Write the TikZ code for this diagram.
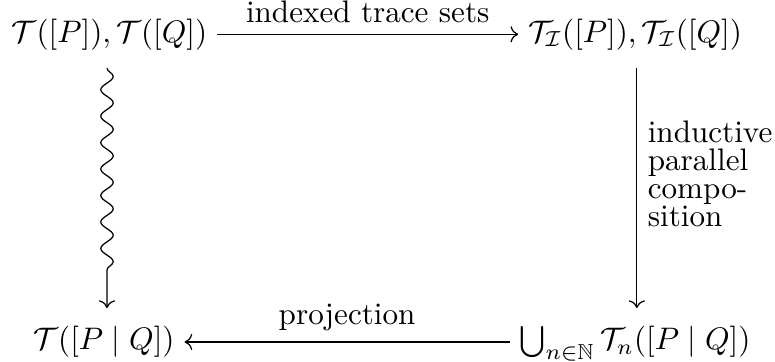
\documentclass[tikz,border=0pt]{standalone}
\usepackage{amsmath,amssymb}
\usetikzlibrary{arrows.meta,positioning,calc,decorations.pathmorphing}

\begin{document}
\begin{tikzpicture}[
  obj/.style={inner xsep=3pt,inner ysep=5.7pt,text height=7.5pt,text depth=2.5pt},
  squig/.style={decorate,decoration={snake,amplitude=2pt,segment length=8.5pt,post length=3mm}}]
\useasboundingbox (0,0) rectangle (8.75,4.087);
\node[obj] (tl) at (1.236,3.70) {$\mathcal{T}([P]),\mathcal{T}([Q])$};
\node[obj] (tr) at (7.17,3.70) {$\mathcal{T}_{\mathcal{I}}([P]),\mathcal{T}_{\mathcal{I}}([Q])$};
\node[obj] (bl) at (1.174,0.226) {$\mathcal{T}([P \mid Q])$};
\node[obj] (br) at (7.17,0.226) {$\bigcup_{n\in\mathbb{N}}\mathcal{T}_n([P \mid Q])$};
\coordinate (lc) at (1.208,0);
\coordinate (rc) at (7.19,0);
% arrows
\draw[->] (tl) -- node[above] {indexed trace sets} (tr);
\draw[->] (tr.south -| rc) -- node[right,yshift=4.5pt,align=left,font=\fontsize{10}{9}\selectfont] {inductive\\parallel\\compo-\\sition} (br.north -| rc);
\draw[->] (br) -- node[above] {projection} (bl);
\draw[->,squig] (tl.south -| lc) -- (bl.north -| lc);
\end{tikzpicture}
\end{document}
